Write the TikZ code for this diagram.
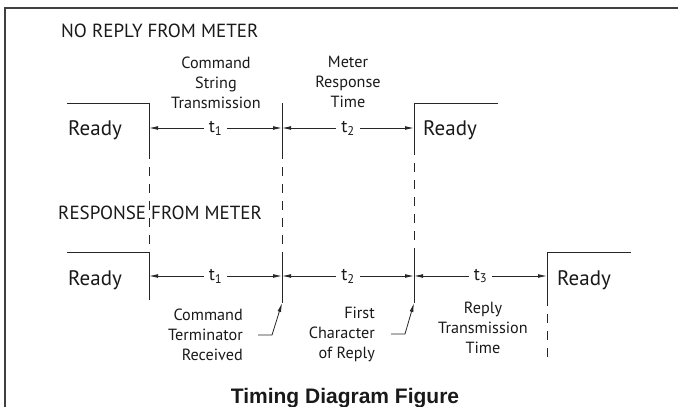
\documentclass[tikz,border=0pt]{standalone}
\usepackage{fontspec}
\setmainfont{PT Sans}
\newfontfamily\captionfont{Liberation Sans}
\usetikzlibrary{arrows.meta}
\tikzset{
  frame/.style={draw=black!75, line width=2pt},
  signal/.style={draw=black!85, line width=1pt},
  guide/.style={draw=black!85, line width=0.9pt, dash pattern=on 9pt off 8pt},
  dim/.style={draw=black!85, line width=0.8pt, {Latex[length=9pt,width=3.8pt]}-{Latex[length=9pt,width=3.8pt]}},
  leader/.style={draw=black!85, line width=0.8pt, -{Latex[length=9pt,width=3.8pt]}},
  tlabel/.style={fill=white, inner xsep=5pt, inner ysep=1pt, text=black!90, font=\fontsize{18}{20}\selectfont},
  ready/.style={anchor=base west, inner sep=0pt, text=black!90, font=\fontsize{21}{24}\selectfont},
  heading/.style={anchor=base west, inner sep=0pt, text=black!90, font=\fontsize{19}{22}\selectfont},
  note/.style={align=center, anchor=base, inner sep=0pt, text=black!90, font=\fontsize{16.2}{20}\selectfont},
  caption/.style={anchor=base, inner sep=0pt, text=black!90, font=\captionfont\bfseries\fontsize{21}{24}\selectfont},
}

\begin{document}
\begin{tikzpicture}[x=1pt, y=-1pt]
  \useasboundingbox (0,0) rectangle (678,407);
  \draw[frame] (5,407) -- (5,8) -- (678,8);

  % ---------------- no reply from meter ----------------
  \coordinate (r1start) at (67,103);
  \coordinate (r1e1) at (149,103);  \coordinate (r1e1b) at (149,150);
  \coordinate (r1e2) at (282,103);  \coordinate (r1e2b) at (282,150);
  \coordinate (r1e3) at (414,103);  \coordinate (r1e3b) at (414,146);
  \coordinate (r1end) at (498,103);
  \coordinate (m1) at (149,128); \coordinate (m2) at (282,128); \coordinate (m3) at (414,128);

  \node[heading] (hdr1) at (61,37) {NO REPLY FROM METER};
  \draw[signal] (r1start) -- (r1e1) -- (r1e1b);
  \draw[signal] (r1e2) -- (r1e2b);
  \draw[signal] (r1e3b) -- (r1e3) -- (r1end);
  \node[ready] (rdy1) at (68,135) {Ready};
  \node[ready] (rdy2) at (423,135) {Ready};
  \draw[dim] (m1) -- node[tlabel] (t1a) {t\textsubscript{1}} (m2);
  \draw[dim] (m2) -- node[tlabel] (t2a) {t\textsubscript{2}} (m3);
  % base anchor sits on the last line
  \node[note] (cst) at (216,108) {Command\\String\\Transmission};
  \node[note] (mrt) at (348,107) {Meter\\Response\\Time};

  % ---------------- response from meter ----------------
  \coordinate (r2start) at (67,252);
  \coordinate (r2e1) at (149,252);  \coordinate (r2e1b) at (149,300);
  \coordinate (r2e2) at (282,252);  \coordinate (r2e2b) at (282,303);
  \coordinate (r2e3) at (414,252);  \coordinate (r2e3b) at (414,303);
  \coordinate (r2e4) at (547,252);  \coordinate (r2e4b) at (547,297);
  \coordinate (r2e4c) at (547,360);
  \coordinate (r2end) at (631,252);
  \coordinate (n1) at (149,276); \coordinate (n2) at (282,276);
  \coordinate (n3) at (414,276); \coordinate (n4) at (547,276);

  \node[heading] (hdr2) at (58,219) {RESPONSE FROM METER};
  \draw[guide] (r1e1b) -- (r2e1);
  \draw[guide] (r1e2b) -- (r2e2);
  \draw[guide] (r1e3b) -- (r2e3);
  \draw[guide] (r2e4b) -- (r2e4c);
  \draw[signal] (r2start) -- (r2e1) -- (r2e1b);
  \draw[signal] (r2e2) -- (r2e2b);
  \draw[signal] (r2e3) -- (r2e3b);
  \draw[signal] (r2e4b) -- (r2e4) -- (r2end);
  \node[ready] (rdy3) at (68,285) {Ready};
  \node[ready] (rdy4) at (557,285) {Ready};
  \draw[dim] (n1) -- node[tlabel] (t1b) {t\textsubscript{1}} (n2);
  \draw[dim] (n2) -- node[tlabel] (t2b) {t\textsubscript{2}} (n3);
  \draw[dim] (n3) -- node[tlabel] (t3b) {t\textsubscript{3}} (n4);

  \node[note, align=right, anchor=base east] (ctr) at (243,360) {Command\\Terminator\\Received};
  \node[note, align=right, anchor=base east] (fcr) at (375,358) {First\\Character\\of Reply};
  \node[note] (rtt) at (483,353) {Reply\\Transmission\\Time};
  \coordinate (k1tail) at (258,335); \coordinate (k1bend) at (272,335);
  \coordinate (k2tail) at (391,334); \coordinate (k2bend) at (405,334);
  \draw[leader] (k1tail) -- (k1bend) -- (r2e2b);
  \draw[leader] (k2tail) -- (k2bend) -- (r2e3b);

  % ---------------- caption ----------------
  \node[caption] (cap) at (345,403) {Timing Diagram Figure};
\end{tikzpicture}
\end{document}
